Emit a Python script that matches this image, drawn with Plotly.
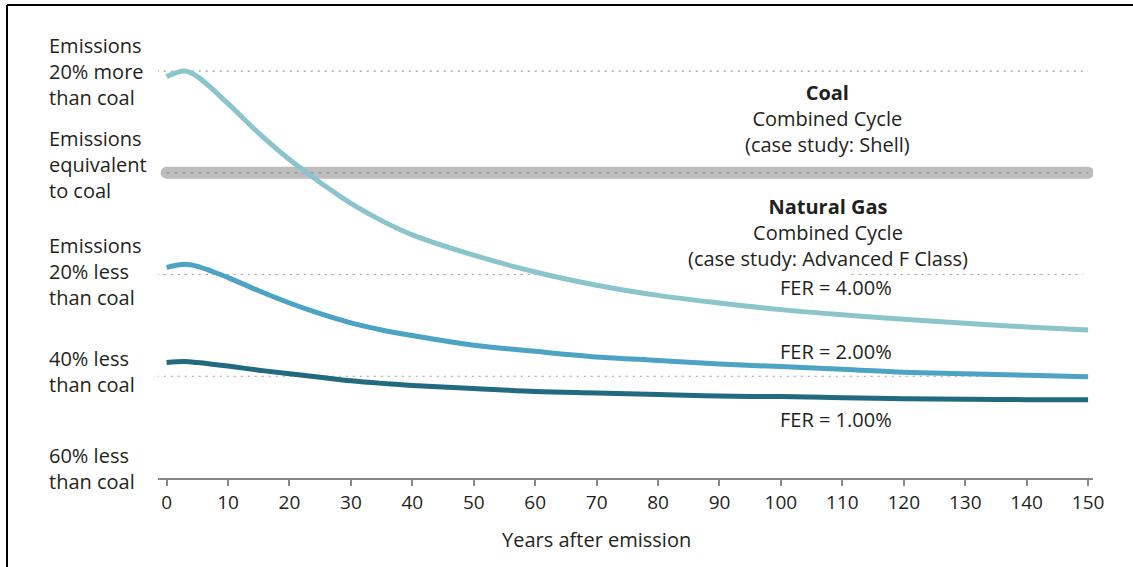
import plotly.graph_objects as go

# years after emission and emissions relative to coal (%)
years = [0, 3, 5, 10, 15, 20, 25, 30, 35, 40, 50, 60, 70, 80, 90, 100, 110, 120, 130, 140, 150]
fer_4 = [18.9, 20.0, 18.9, 13.6, 7.8, 2.6, -1.9, -6.0, -9.4, -12.2, -16.2, -19.5, -22.1, -24.1,
         -25.6, -26.9, -27.9, -28.8, -29.6, -30.3, -30.9]
fer_2 = [-18.6, -18.0, -18.4, -20.6, -23.2, -25.6, -27.7, -29.5, -30.9, -32.0, -33.9, -35.1,
         -36.2, -36.9, -37.6, -38.1, -38.6, -39.2, -39.5, -39.8, -40.1]
fer_1 = [-37.3, -37.1, -37.3, -38.0, -38.8, -39.5, -40.2, -40.9, -41.4, -41.8, -42.4, -43.0,
         -43.3, -43.6, -43.9, -44.0, -44.2, -44.4, -44.5, -44.6, -44.6]
coal_x = [0, 150]
coal_y = [0, 0]
x_ticks = list(range(0, 151, 10))

FONT = "Open Sans"
TXT = "#231f20"
GRID = "#9a9a9a"

fig = go.Figure()

# reference dotted lines
ref_lines = [
    (20, -1.6, 150),
    (-20, -1.6, 60.5),
    (-20, 111.5, 149.2),
    (-40, -1.6, 150),
]
for yv, x0, x1 in ref_lines:
    fig.add_shape(type="line", xref="x", yref="y", x0=x0, x1=x1, y0=yv, y1=yv,
                  line=dict(color=GRID, width=1.2, dash="2px,5px"), layer="below")

# coal band (thick grey rounded bar with dotted centre)
fig.add_trace(go.Scatter(x=coal_x, y=coal_y, mode="lines+markers",
                         line=dict(color="#bdbdbd", width=12),
                         marker=dict(color="#bdbdbd", size=12),
                         hoverinfo="skip", showlegend=False))
fig.add_trace(go.Scatter(x=coal_x, y=coal_y, mode="lines",
                         line=dict(color="#8a8a8a", width=1.2, dash="3px,5px"),
                         hoverinfo="skip", showlegend=False))

for ys, col in [(fer_4, "#8cc4cc"), (fer_2, "#4ca3c4"), (fer_1, "#216a80")]:
    fig.add_trace(go.Scatter(x=years, y=ys, mode="lines",
                             line=dict(color=col, width=5, shape="spline", smoothing=1.0),
                             showlegend=False))

# left labels
left_labels = [
    ("Emissions<br>20% more<br>than coal", 20.0),
    ("Emissions<br>equivalent<br>to coal", 1.6),
    ("Emissions<br>20% less<br>than coal", -19.4),
    ("40% less<br>than coal", -39.1),
    ("60% less<br>than coal", -58.2),
]
for txt, yv in left_labels:
    fig.add_annotation(text=txt, xref="paper", x=0, xanchor="left", xshift=-111,
                       yref="y", y=yv, yanchor="middle", align="left", showarrow=False,
                       font=dict(family=FONT, size=20, color=TXT))

# right labels
right_labels = [
    ("<b>Coal</b><br>Combined Cycle<br>(case study: Shell)", 107.6, 10.76),
    ("<b>Natural Gas</b><br>Combined Cycle<br>(case study: Advanced F Class)", 107.6, -11.7),
    ("FER = 4.00%", 108.9, -22.5),
    ("FER = 2.00%", 108.9, -35.13),
    ("FER = 1.00%", 108.9, -48.5),
]
for txt, xv, yv in right_labels:
    fig.add_annotation(text=txt, x=xv, y=yv, xanchor="center", yanchor="middle",
                       align="center", showarrow=False,
                       font=dict(family=FONT, size=20, color=TXT))

fig.add_annotation(text="Years after emission", x=70, xanchor="center",
                   yref="paper", y=0, yanchor="top", yshift=-46, showarrow=False,
                   font=dict(family=FONT, size=20, color=TXT))

# frame on left and top
fig.add_shape(type="line", xref="paper", yref="paper", x0=-0.1615, x1=1.05, y0=1.0107, y1=1.0107,
              line=dict(color="black", width=2))
fig.add_shape(type="line", xref="paper", yref="paper", x0=-0.1615, x1=-0.1615, y0=1.0107, y1=-0.25,
              line=dict(color="black", width=2))

fig.update_xaxes(range=[-1.4, 150.8], tickvals=x_ticks, ticks="outside", ticklen=6,
                 tickwidth=1.5, tickcolor="#888", showline=True, linecolor="#888", linewidth=2,
                 showgrid=False, zeroline=False,
                 tickfont=dict(family=FONT, size=19, color=TXT))
fig.update_yaxes(range=[-60, 32.0], visible=False, showgrid=False, zeroline=False)

fig.update_layout(width=1133, height=567, margin=dict(l=158, r=40, t=10, b=89),
                  plot_bgcolor="white", paper_bgcolor="white")

fig.write_html("out.html", config={"displayModeBar": False},
               post_script="document.body.style.margin='0';")
